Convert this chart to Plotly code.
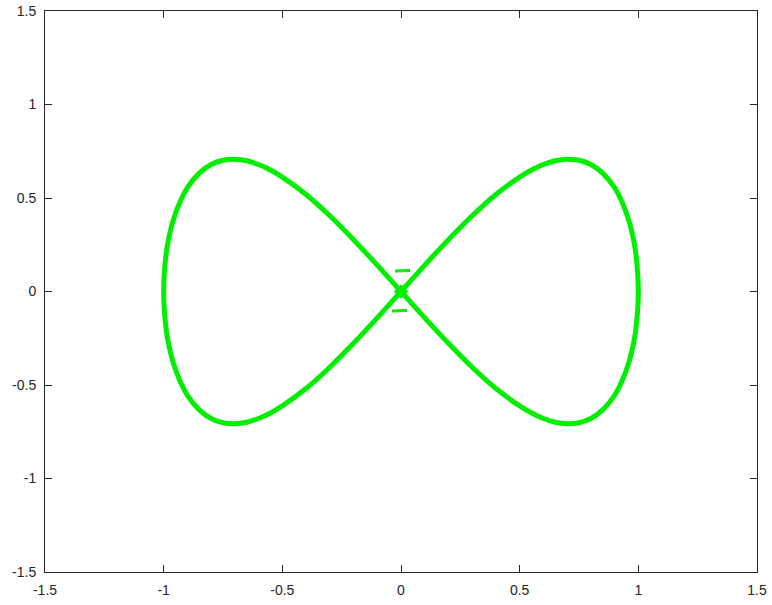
import plotly.graph_objects as go

# Points read off the figure-eight, traced in drawing order:
# origin -> upper right lobe -> lower right -> origin -> upper left -> lower left -> origin
curve_x = [0.0, 0.1, 0.2, 0.3, 0.4, 0.5, 0.55, 0.6, 0.65, 0.7, 0.75, 0.8, 0.85, 0.9, 0.93, 0.96, 0.98, 0.99, 1.0,
           0.99, 0.98, 0.96, 0.93, 0.9, 0.85, 0.8, 0.75, 0.7, 0.65, 0.6, 0.55, 0.5, 0.4, 0.3, 0.2, 0.1, 0.0,
           -0.1, -0.2, -0.3, -0.4, -0.5, -0.55, -0.6, -0.65, -0.7, -0.75, -0.8, -0.85, -0.9, -0.93, -0.96, -0.98, -0.99, -1.0,
           -0.99, -0.98, -0.96, -0.93, -0.9, -0.85, -0.8, -0.75, -0.7, -0.65, -0.6, -0.55, -0.5, -0.4, -0.3, -0.2, -0.1, 0.0]
curve_y = [0.0, 0.141, 0.277, 0.405, 0.519, 0.612, 0.65, 0.679, 0.699, 0.707, 0.702, 0.679, 0.633, 0.555, 0.483, 0.38, 0.276, 0.198, 0.0,
           -0.198, -0.276, -0.38, -0.483, -0.555, -0.633, -0.679, -0.702, -0.707, -0.699, -0.679, -0.65, -0.612, -0.519, -0.405, -0.277, -0.141, 0.0,
           0.141, 0.277, 0.405, 0.519, 0.612, 0.65, 0.679, 0.699, 0.707, 0.702, 0.679, 0.633, 0.555, 0.483, 0.38, 0.276, 0.198, 0.0,
           -0.198, -0.276, -0.38, -0.483, -0.555, -0.633, -0.679, -0.702, -0.707, -0.699, -0.679, -0.65, -0.612, -0.519, -0.405, -0.277, -0.141, 0.0]

# the two short stray dashes just above and below the crossing
dash_x = [-0.025, 0.038, None, -0.038, 0.025]
dash_y = [0.11, 0.112, None, -0.104, -0.102]

tick_vals = [-1.5, -1, -0.5, 0, 0.5, 1, 1.5]
tick_text = ['-1.5', '-1', '-0.5', '0', '0.5', '1', '1.5']

green = 'rgb(0,238,0)'

fig = go.Figure()
fig.add_trace(go.Scatter(x=curve_x, y=curve_y, mode='lines',
                         line=dict(color=green, width=5, shape='spline', smoothing=0.6),
                         hoverinfo='skip'))
fig.add_trace(go.Scatter(x=dash_x, y=dash_y, mode='lines',
                         line=dict(color=green, width=3), hoverinfo='skip'))
# thicker blob where the lobes cross
fig.add_trace(go.Scatter(x=[0], y=[0], mode='markers',
                         marker=dict(color=green, size=11, symbol='diamond'),
                         hoverinfo='skip'))

axis_style = dict(range=[-1.5, 1.5], tickvals=tick_vals, ticktext=tick_text,
                  showgrid=False, zeroline=False, showline=True, linecolor='#262626',
                  linewidth=1, mirror='ticks', ticks='inside', ticklen=7,
                  tickcolor='#262626', automargin=False, ticklabelstandoff=5,
                  tickfont=dict(family='Liberation Sans, Arial', size=14, color='#262626'))

fig.update_layout(
    width=772, height=605,
    margin=dict(l=45, r=15, t=11, b=33),
    paper_bgcolor='white', plot_bgcolor='white',
    showlegend=False,
    xaxis=axis_style,
    yaxis=axis_style,
)

# drop the browser's default 8px body margin so the figure sits at the page corner
fig.write_html("out.html", config={'displayModeBar': False},
               post_script="document.body.style.margin='0';")
